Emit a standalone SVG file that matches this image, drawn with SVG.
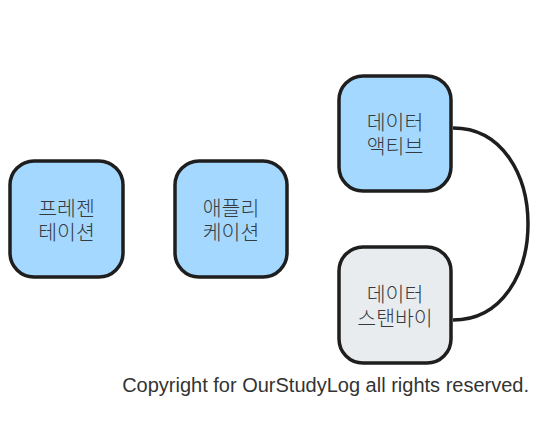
<svg xmlns="http://www.w3.org/2000/svg" width="540" height="439" viewBox="0 0 540 439">
<style>
.box{stroke:#1e1e1e;stroke-width:3.5}
.blue{fill:#a5d8ff}
.grey{fill:#e9ecef}
.lbl{font-family:"Noto Sans CJK KR","Noto Sans",sans-serif;font-size:20.5px;font-weight:300;fill:#343a40;text-anchor:middle}
.conn{fill:none;stroke:#1e1e1e;stroke-width:3.5}
.copy{font-family:"Liberation Sans",Arial,sans-serif;font-size:20px;fill:#333;text-anchor:end}
</style>
<rect width="540" height="439" fill="#fff"/>
<g id="connectors">
<path class="conn" d="M453,128 C553,128 553,320 453,320"/>
</g>
<g id="presentation">
<rect class="box blue" x="10" y="161" width="113" height="116" rx="24"/>
<text class="lbl"><tspan x="66.5" y="216">프레젠</tspan><tspan x="66.5" y="240">테이션</tspan></text>
</g>
<g id="application">
<rect class="box blue" x="175" y="161" width="112" height="116" rx="24"/>
<text class="lbl"><tspan x="231" y="216">애플리</tspan><tspan x="231" y="240">케이션</tspan></text>
</g>
<g id="data-active">
<rect class="box blue" x="339" y="76" width="112" height="115" rx="24"/>
<text class="lbl"><tspan x="395" y="130">데이터</tspan><tspan x="395" y="154">액티브</tspan></text>
</g>
<g id="data-standby">
<rect class="box grey" x="339" y="247" width="112" height="116" rx="24"/>
<text class="lbl"><tspan x="395" y="302">데이터</tspan><tspan x="395" y="326">스탠바이</tspan></text>
</g>
<text class="copy" x="529" y="392">Copyright for OurStudyLog all rights reserved.</text>
</svg>
